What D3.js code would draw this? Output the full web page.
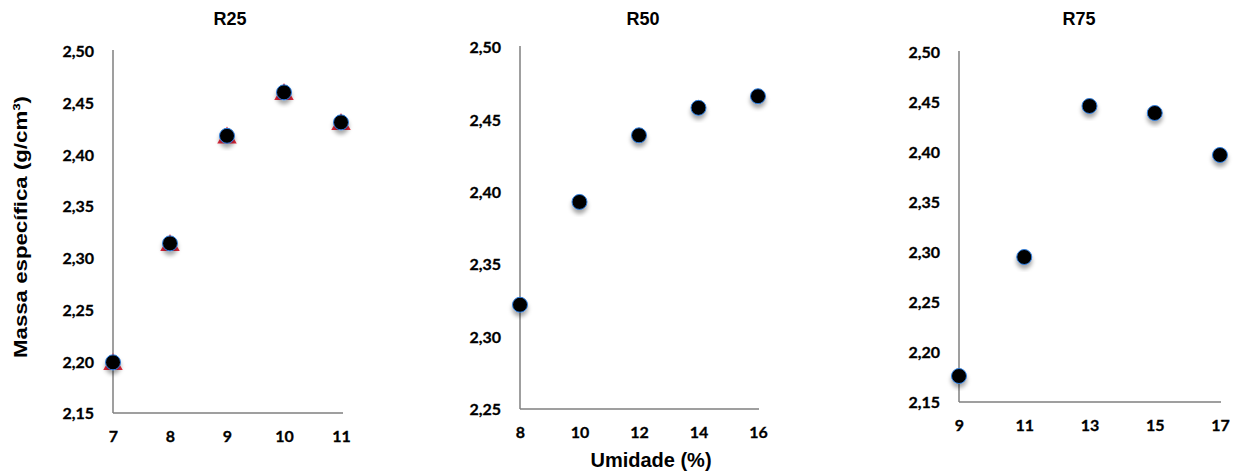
<!DOCTYPE html>
<html>
<head>
<meta charset="utf-8">
<script src="https://cdn.jsdelivr.net/npm/d3@7"></script>
<style>
  body { margin: 0; background: #fff; }
  .tick-label { font-family: Lato, "Open Sans", sans-serif; font-weight: bold; font-size: 16px; fill: #000; stroke: #000; stroke-width: 0.3px; }
  .title { font-family: "Liberation Sans", Arial, sans-serif; font-weight: bold; font-size: 18px; fill: #000; }
  .axis-label { font-family: "Liberation Sans", Arial, sans-serif; font-weight: bold; fill: #000; }
</style>
</head>
<body>
<div id="chart"></div>
<script>
// Data
const r25Umidade = [7, 8, 9, 10, 11];
const r25Massa = [2.199, 2.314, 2.418, 2.460, 2.431];
const r50Umidade = [8, 10, 12, 14, 16];
const r50Massa = [2.322, 2.393, 2.439, 2.458, 2.466];
const r75Umidade = [9, 11, 13, 15, 17];
const r75Massa = [2.176, 2.295, 2.446, 2.439, 2.397];

const r25YTicks = [2.15, 2.20, 2.25, 2.30, 2.35, 2.40, 2.45, 2.50];
const r50YTicks = [2.25, 2.30, 2.35, 2.40, 2.45, 2.50];
const r75YTicks = [2.15, 2.20, 2.25, 2.30, 2.35, 2.40, 2.45, 2.50];

const width = 1240, height = 472;

const svg = d3.select("#chart").append("svg")
    .attr("width", width)
    .attr("height", height);

// Soft shadow under the markers
const defs = svg.append("defs");
const shadow = defs.append("filter")
    .attr("id", "shadow")
    .attr("x", "-50%").attr("y", "-50%")
    .attr("width", "200%").attr("height", "200%");
shadow.append("feDropShadow")
    .attr("dx", 0).attr("dy", 4)
    .attr("stdDeviation", 2.2)
    .attr("flood-color", "#000")
    .attr("flood-opacity", 0.35);

const fmt = v => d3.format(".2f")(v).replace(".", ",");

// Layout for each panel (pixel box of the plot area)
const panels = [
    { title: "R25", xs: r25Umidade, ys: r25Massa, yTicks: r25YTicks,
      left: 113, right: 341, top: 51, bottom: 413, titleX: 230, axisExtra: 2, redMark: true },
    { title: "R50", xs: r50Umidade, ys: r50Massa, yTicks: r50YTicks,
      left: 520, right: 758, top: 47, bottom: 409, titleX: 643, axisExtra: 1, redMark: false },
    { title: "R75", xs: r75Umidade, ys: r75Massa, yTicks: r75YTicks,
      left: 959, right: 1220, top: 52, bottom: 402, titleX: 1079, axisExtra: 1, redMark: false }
];

panels.forEach(p => {
    const g = svg.append("g");

    const x = d3.scaleLinear()
        .domain(d3.extent(p.xs))
        .range([p.left, p.right]);
    const y = d3.scaleLinear()
        .domain(d3.extent(p.yTicks))
        .range([p.bottom, p.top]);

    // x axis: line only, labels below
    const xAxis = g.append("g")
        .attr("transform", `translate(0,${p.bottom})`)
        .call(d3.axisBottom(x).tickValues(p.xs).tickSize(0).tickPadding(18).tickFormat(d3.format("d")));
    xAxis.select(".domain")
        .attr("d", `M${p.left},0H${p.right + p.axisExtra}`)
        .attr("stroke", "#7f7f7f").attr("stroke-width", 1.5);
    xAxis.selectAll("text").attr("class", "tick-label");
    xAxis.attr("font-size", null).attr("font-family", null);

    // y axis
    const yAxis = g.append("g")
        .attr("transform", `translate(${p.left},0)`)
        .call(d3.axisLeft(y).tickValues(p.yTicks).tickSize(0).tickPadding(19).tickFormat(fmt));
    yAxis.select(".domain")
        .attr("d", `M0,${p.top - 1}V${p.bottom}`)
        .attr("stroke", "#7f7f7f").attr("stroke-width", 1.5);
    yAxis.selectAll("text").attr("class", "tick-label").attr("dy", "0.36em");
    yAxis.attr("font-size", null).attr("font-family", null);

    // title
    g.append("text")
        .attr("class", "title")
        .attr("x", p.titleX)
        .attr("y", 25)
        .attr("text-anchor", "middle")
        .text(p.title);

    const pts = p.xs.map((v, i) => ({ x: v, y: p.ys[i] }));

    // hidden red series peeking out under the R25 markers
    if (p.redMark) {
        g.selectAll("path.red")
            .data(pts)
            .enter().append("path")
            .attr("class", "red")
            .attr("d", d3.symbol().type(d3.symbolTriangle).size(165))
            .attr("transform", d => `translate(${x(d.x)},${y(d.y) + 2})`)
            .attr("fill", "#e8283c");
    }

    g.selectAll("circle.pt")
        .data(pts)
        .enter().append("circle")
        .attr("class", "pt")
        .attr("cx", d => x(d.x))
        .attr("cy", d => y(d.y))
        .attr("r", 7.5)
        .attr("fill", "#000")
        .attr("stroke", "#2f7fe0")
        .attr("stroke-width", 1)
        .attr("filter", "url(#shadow)");
});

// shared axis labels
svg.append("text")
    .attr("class", "axis-label")
    .attr("font-size", 19)
    .attr("transform", "translate(27,227) rotate(-90)")
    .attr("text-anchor", "middle")
    .attr("textLength", 262)
    .attr("lengthAdjust", "spacingAndGlyphs")
    .text("Massa específica (g/cm³)");

svg.append("text")
    .attr("class", "axis-label")
    .attr("font-size", 20)
    .attr("x", 651)
    .attr("y", 467)
    .attr("text-anchor", "middle")
    .text("Umidade (%)");
</script>
</body>
</html>
